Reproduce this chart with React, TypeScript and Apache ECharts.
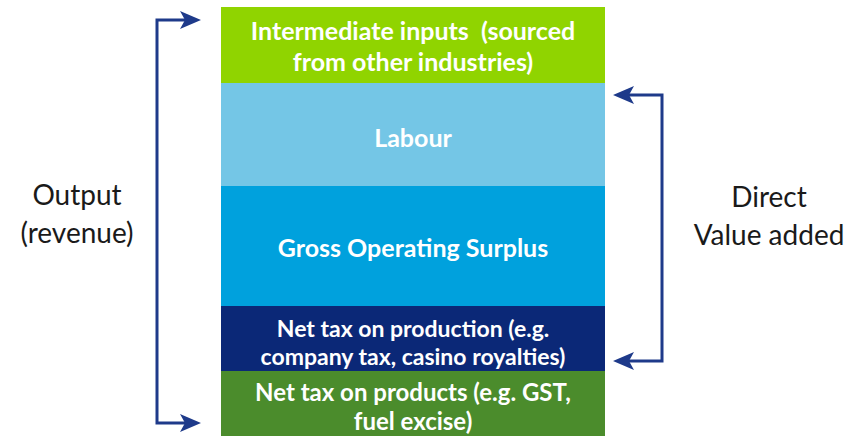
import React, { useEffect, useRef } from "react";
import * as echarts from "echarts";

const categories = ["Output"];
const segmentNames = [
  "Net tax on products (e.g. GST,\nfuel excise)",
  "Net tax on production (e.g.\ncompany tax, casino royalties)",
  "Gross Operating Surplus",
  "Labour",
  "Intermediate inputs  (sourced\nfrom other industries)",
];
const segmentValues = [65, 65, 120, 103, 76];
const segmentColors = ["#4B8C2C", "#0B2877", "#00A1DD", "#74C6E6", "#90D400"];
const segmentFontSizes = [24, 23, 25, 25, 25];
const segmentLineHeights = [29, 28, 26, 26, 31];
const segmentLabelShift = [2, 3, 1, 2, 0];
const leftLabel = "Output\n(revenue)";
const rightLabel = "Direct\nValue added";

export default function App() {
  const ref = useRef<HTMLDivElement>(null);
  useEffect(() => {
    if (!ref.current) return;
    const chart = echarts.init(ref.current, null, { renderer: "svg" });
    const total = segmentValues.reduce((a, b) => a + b, 0);
    const arrowColor = "#1E3A8A";
    const head = (tipX: number, y: number, dir: number) => ({
      type: "polygon",
      shape: {
        points: [
          [tipX, y],
          [tipX - dir * 21, y - 9],
          [tipX - dir * 16, y],
          [tipX - dir * 21, y + 9],
        ],
      },
      style: { fill: arrowColor },
      silent: true,
    });
    chart.setOption({
      animation: false,
      grid: { left: 221, right: 246, top: 7, bottom: 2 },
      xAxis: {
        type: "category",
        data: categories,
        show: false,
      },
      yAxis: { type: "value", min: 0, max: total, show: false },
      series: segmentNames.map((name, i) => ({
        type: "bar",
        name,
        stack: "total",
        barWidth: "100%",
        data: [segmentValues[i]],
        itemStyle: { color: segmentColors[i] },
        label: {
          show: true,
          position: "inside",
          offset: [0, segmentLabelShift[i]],
          formatter: name,
          color: "#ffffff",
          fontFamily: "Lato",
          fontWeight: "bold",
          fontSize: segmentFontSizes[i],
          lineHeight: segmentLineHeights[i],
          align: "center",
        },
      })),
      graphic: [
        {
          type: "polyline",
          shape: { points: [[185, 20], [157, 20], [157, 423], [185, 423]] },
          style: { stroke: arrowColor, lineWidth: 3, fill: "none" },
          silent: true,
        },
        head(201, 20, 1),
        head(201, 423, 1),
        {
          type: "polyline",
          shape: { points: [[628, 95], [662, 95], [662, 361], [628, 361]] },
          style: { stroke: arrowColor, lineWidth: 3, fill: "none" },
          silent: true,
        },
        head(613, 95, -1),
        head(613, 361, -1),
        {
          type: "text",
          x: 77,
          y: 213,
          style: {
            text: leftLabel,
            fill: "#1a1a1a",
            font: "28px Lato",
            lineHeight: 38,
            align: "center",
            verticalAlign: "middle",
          },
          silent: true,
        },
        {
          type: "text",
          x: 769,
          y: 215,
          style: {
            text: rightLabel,
            fill: "#1a1a1a",
            font: "28px Lato",
            lineHeight: 38,
            align: "center",
            verticalAlign: "middle",
          },
          silent: true,
        },
      ],
    });
    return () => chart.dispose();
  }, []);
  return (
    <div
      ref={ref}
      style={{ position: "fixed", left: 0, top: 0, width: 851, height: 438, background: "#ffffff" }}
    />
  );
}
